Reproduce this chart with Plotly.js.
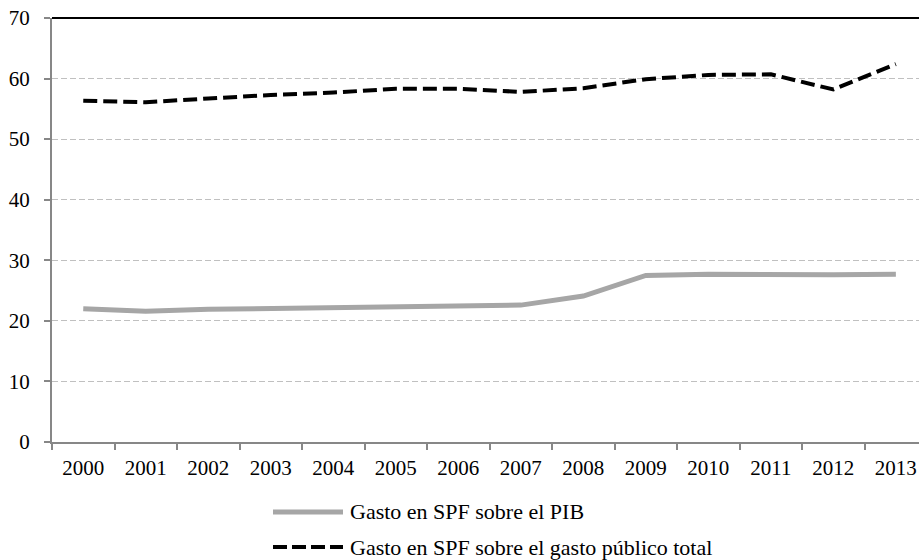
<!DOCTYPE html>
<html>
<head>
<meta charset="utf-8">
<script src="https://cdn.plot.ly/plotly-3.0.1.min.js"></script>
<style>
html,body{margin:0;padding:0;background:#fff;}
#chart{width:919px;height:560px;}
#chart svg text{font-family:'Liberation Serif', serif !important;}
</style>
</head>
<body>
<div id="chart"></div>
<script>
var years = ["2000","2001","2002","2003","2004","2005","2006","2007","2008","2009","2010","2011","2012","2013"];
var gastoPIB = [22.0, 21.6, 21.9, 22.0, 22.3, 22.3, 22.3, 22.6, 24.1, 27.5, 27.7, 27.6, 27.6, 27.7];
var gastoPublico = [56.35, 56.1, 56.7, 57.3, 57.7, 58.3, 58.3, 57.8, 58.4, 59.9, 60.6, 60.7, 58.2, 62.4];
var seriesNames = ["Gasto en SPF sobre el PIB", "Gasto en SPF sobre el gasto público total"];
var yTicks = [0, 10, 20, 30, 40, 50, 60, 70];

var fontFam = "Liberation Serif";
var traces = [
  {x: years, y: gastoPIB, type: "scatter", mode: "lines", name: seriesNames[0],
   line: {color: "#a6a6a6", width: 5}, showlegend: false, hoverinfo: "x+y"},
  {x: years, y: gastoPublico, type: "scatter", mode: "lines", name: seriesNames[1],
   line: {color: "#000000", width: 4, dash: "14px,6px"}, showlegend: false, hoverinfo: "x+y"}
];

var L = 52, T = 18, W = 867, H = 424;
function px(x){ return (x - L) / W; }
function py(y){ return (T + H - y) / H; }

var layout = {
  width: 919, height: 560,
  margin: {l: L, r: 0, t: T, b: 560 - T - H},
  paper_bgcolor: "#ffffff", plot_bgcolor: "#ffffff",
  font: {family: fontFam, size: 20, color: "#000"},
  showlegend: false,
  xaxis: {
    type: "category", range: [-0.5, 13.37],
    showline: true, linecolor: "#878787", linewidth: 2,
    ticks: "outside", ticklen: 6, tickwidth: 2, tickcolor: "#878787",
    tickson: "boundaries", showgrid: false, zeroline: false,
    ticklabelstandoff: 6,
    tickfont: {family: fontFam, size: 21, color: "#000"}
  },
  yaxis: {
    range: [0, 70], tickvals: yTicks,
    showline: true, linecolor: "#878787", linewidth: 2,
    ticks: "outside", ticklen: 6, tickwidth: 2, tickcolor: "#878787",
    showgrid: true, gridcolor: "#c0c0c0", gridwidth: 1, griddash: "6px,3px",
    zeroline: false, ticklabelstandoff: 10,
    tickfont: {family: fontFam, size: 21, color: "#000"}
  },
  shapes: [
    {type: "line", xref: "paper", yref: "paper", x0: 0, x1: 1, y0: 1, y1: 1,
     line: {color: "#000", width: 2}},
    {type: "line", xref: "paper", yref: "paper", x0: px(273), x1: px(343), y0: py(512), y1: py(512),
     line: {color: "#a6a6a6", width: 5}},
    {type: "line", xref: "paper", yref: "paper", x0: px(273), x1: px(343), y0: py(547), y1: py(547),
     line: {color: "#000", width: 4, dash: "14px,5px"}}
  ],
  annotations: [
    {xref: "paper", yref: "paper", x: px(348), y: py(512), xanchor: "left", yanchor: "middle",
     text: seriesNames[0], showarrow: false, font: {family: fontFam, size: 22, color: "#000"}},
    {xref: "paper", yref: "paper", x: px(348), y: py(547), xanchor: "left", yanchor: "middle",
     text: seriesNames[1], showarrow: false, font: {family: fontFam, size: 22, color: "#000"}}
  ]
};

Plotly.newPlot("chart", traces, layout, {displayModeBar: false});
</script>
</body>
</html>
